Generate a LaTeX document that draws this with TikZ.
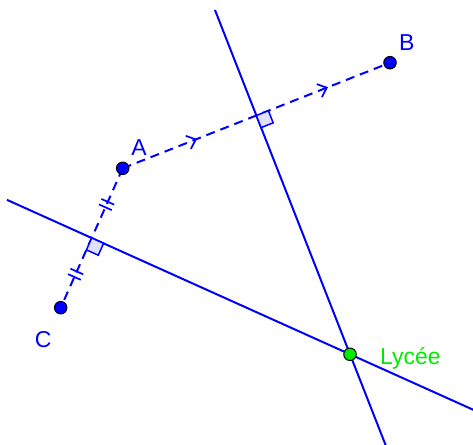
\documentclass[tikz,border=0pt]{standalone}
\usepackage{fontspec}
\setmainfont{Liberation Sans}
\usetikzlibrary{calc,decorations.markings}
\definecolor{gblue}{RGB}{0,0,255}
\definecolor{ggreen}{RGB}{0,235,0}
\begin{document}
\begin{tikzpicture}[x=1pt,y=1pt,
  bline/.style={gblue,line width=2pt},
  seg/.style={gblue,line width=2pt,dash pattern=on 9pt off 6pt},
  ptb/.style={circle,draw=black,line width=1pt,fill=gblue,inner sep=0pt,minimum size=12.5pt},
  ptg/.style={circle,draw=black,line width=1pt,fill=ggreen,inner sep=0pt,minimum size=12.5pt},
  lbl/.style={text=gblue,font=\fontsize{23}{27}\selectfont,inner sep=0pt},
  ra/.style={draw=gblue,fill=gblue!12,line width=1.5pt},
  chev/.style={solid,gblue,line width=1.7pt},
  ticks/.style={solid,gblue,line width=1.7pt}]
\useasboundingbox (0,0) rectangle (473,444);
\clip (0,0) rectangle (473,444);
\coordinate (A) at (122.7,275.7);
\coordinate (B) at (390,381.3);
\coordinate (C) at (60.7,136.3);
\coordinate (L) at (350,89.7);
\coordinate (M1) at ($(A)!0.5!(B)$);
\coordinate (M2) at ($(A)!0.5!(C)$);
% perpendicular bisectors
\coordinate (T1) at ($(M1)!-0.4418!(L)$);
\coordinate (E1) at ($(M1)!1.45!(L)$);
\coordinate (T2) at ($(M2)!-0.328!(L)$);
\coordinate (E2) at ($(M2)!1.6!(L)$);
\draw[bline] (T1) -- (E1);
\draw[bline] (T2) -- (E2);
% dashed segments
\draw[seg,postaction={decorate},decoration={markings,
  mark=at position 0.27 with {\draw[chev] (-7pt,7pt) -- (1pt,0pt) -- (-7pt,-7pt);},
  mark=at position 0.76 with {\draw[chev] (-7pt,7pt) -- (1pt,0pt) -- (-7pt,-7pt);}}]
  (A) -- (B);
\draw[seg,postaction={decorate},decoration={markings,
  mark=at position 0.26 with {\draw[ticks] (-3pt,-7pt) -- (-3pt,7pt) (3pt,-7pt) -- (3pt,7pt);},
  mark=at position 0.76 with {\draw[ticks] (-3pt,-7pt) -- (-3pt,7pt) (3pt,-7pt) -- (3pt,7pt);}}]
  (A) -- (C);
% right angle marks
\coordinate (u1) at ($(M1)!13pt!(B)$);
\coordinate (v1) at ($(M1)!13pt!(L)$);
\draw[ra] (M1) -- (u1) -- ($(u1)+(v1)-(M1)$) -- (v1) -- cycle;
\coordinate (u2) at ($(M2)!13pt!(L)$);
\coordinate (v2) at ($(M2)!13pt!(C)$);
\draw[ra] (M2) -- (u2) -- ($(u2)+(v2)-(M2)$) -- (v2) -- cycle;
% points
\node[ptb] (pA) at (A) {};
\node[ptb] (pB) at (B) {};
\node[ptb] (pC) at (C) {};
\node[ptg] (pL) at (L) {};
% labels
\node[lbl] (lA) at (139,296) {A};
\node[lbl] (lB) at (406.7,401) {B};
\node[lbl] (lC) at (43.3,104) {C};
\node[lbl,text=ggreen,anchor=base west] (lL) at (380,79.7) {Lycée};
\end{tikzpicture}
\end{document}
